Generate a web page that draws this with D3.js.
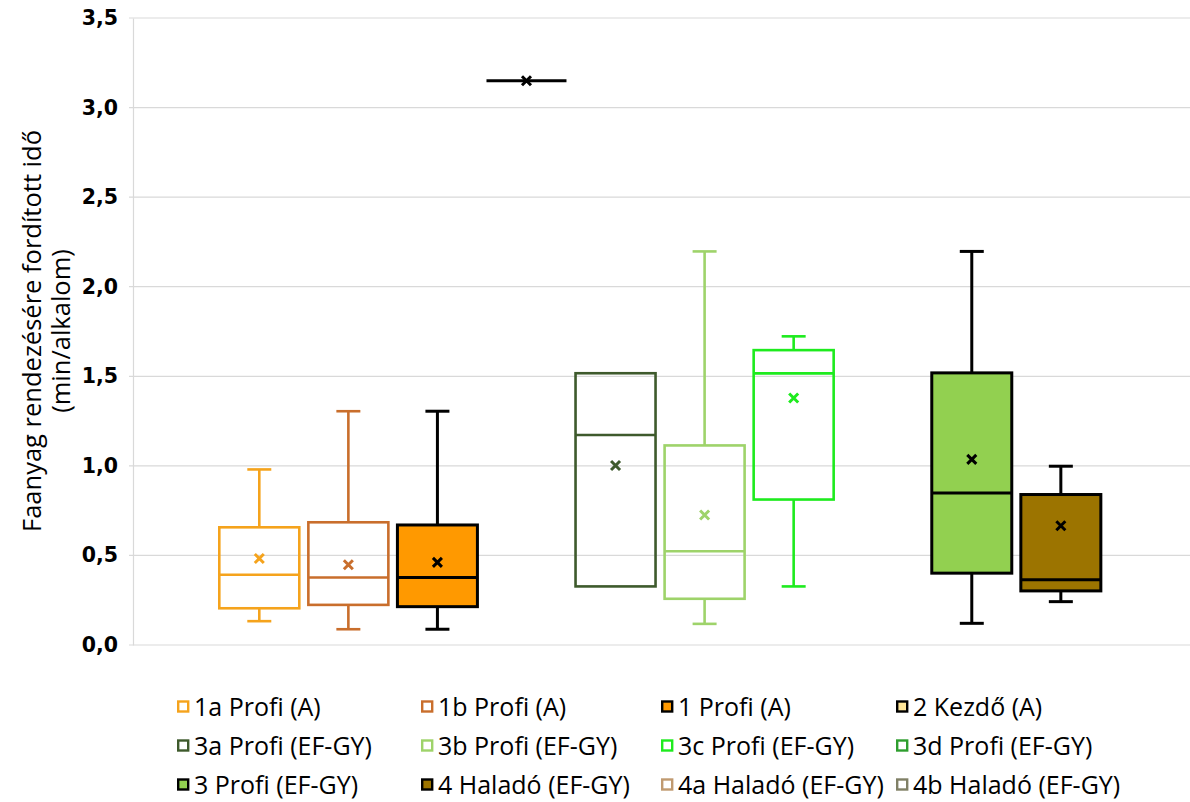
<!DOCTYPE html>
<html>
<head>
<meta charset="utf-8">
<script src="https://cdn.jsdelivr.net/npm/d3@7"></script>
<style>
  html, body { margin: 0; padding: 0; background: #ffffff; }
  svg { display: block; }
  text { font-family: "Open Sans", Lato, sans-serif; }
</style>
</head>
<body>
<svg id="chart" width="1190" height="802"></svg>
<script>
// ---- data ----
const series = ["1a Profi (A)", "1b Profi (A)", "1 Profi (A)", "2 Kezdő (A)",
  "3a Profi (EF-GY)", "3b Profi (EF-GY)", "3c Profi (EF-GY)", "3d Profi (EF-GY)",
  "3 Profi (EF-GY)", "4 Haladó (EF-GY)", "4a Haladó (EF-GY)", "4b Haladó (EF-GY)"];
const minValues    = [0.133, 0.088, 0.088, 3.15, 0.327, 0.118, 0.327, null, 0.121, 0.242, null, null];
const q1Values     = [0.205, 0.224, 0.214, 3.15, 0.327, 0.258, 0.812, null, 0.401, 0.302, null, null];
const medianValues = [0.392, 0.377, 0.377, 3.15, 1.172, 0.523, 1.516, null, 0.849, 0.364, null, null];
const q3Values     = [0.657, 0.685, 0.670, 3.15, 1.517, 1.114, 1.646, null, 1.519, 0.840, null, null];
const maxValues    = [0.980, 1.305, 1.305, 3.15, 1.517, 2.197, 1.723, null, 2.197, 0.998, null, null];
const meanValues   = [0.483, 0.448, 0.461, 3.15, 1.002, 0.726, 1.379, null, 1.036, 0.666, null, null];
const yTicks = [0, 0.5, 1.0, 1.5, 2.0, 2.5, 3.0, 3.5];
const yTitle = ["Faanyag rendezésére fordított idő", "(min/alkalom)"];

// ---- styles ----
const fills   = ["none", "none", "#FF9900", "#FFE699", "none", "none", "none", "none", "#92D050", "#9C7400", "none", "none"];
const strokes = ["#F5A31C", "#C96E2C", "#000000", "#000000", "#3E5A2C", "#9ED36A", "#1EEB1E", "#2E9E2E", "#000000", "#000000", "#C09A70", "#808066"];

const svg = d3.select("#chart");
const plotLeft = 133, plotRight = 1190, plotTop = 18, plotBottom = 645;

const y = d3.scaleLinear().domain([0, 3.5]).range([plotBottom, plotTop]);
const x = d3.scalePoint().domain(series).range([259.3, 259.3 + 11 * 89.06]);
const boxW = 80, capW = 24;

// gridlines
svg.append("g").selectAll("line").data(yTicks).join("line")
  .attr("x1", plotLeft - 4).attr("x2", plotRight)
  .attr("y1", d => y(d)).attr("y2", d => y(d))
  .attr("stroke", "#D9D9D9").attr("stroke-width", 1.2);

// y axis
const fmt = d => d3.format(".1f")(d).replace(".", ",");
const yAxis = svg.append("g").attr("transform", `translate(${plotLeft},0)`)
  .call(d3.axisLeft(y).tickValues(yTicks).tickFormat(fmt).tickSize(0).tickPadding(15));
yAxis.select(".domain").attr("stroke", "#D9D9D9").attr("stroke-width", 1.2);
yAxis.selectAll("text").attr("font-size", 20.5).attr("font-weight", "bold").attr("fill", "#000")
  .style("font-family", "'DejaVu Sans', 'Open Sans', sans-serif");

// y title
const tt = svg.append("text")
  .attr("transform", "translate(41,331) rotate(-90)")
  .attr("text-anchor", "middle").attr("font-size", 25.5).attr("fill", "#000");
tt.append("tspan").attr("x", 0).attr("y", 0).text(yTitle[0]);
tt.append("tspan").attr("x", 0).attr("y", 29).text(yTitle[1]);

// boxes
const data = series.map((s, i) => ({
  s, i, min: minValues[i], q1: q1Values[i], med: medianValues[i], q3: q3Values[i], max: maxValues[i], mean: meanValues[i]
})).filter(d => d.med !== null);

const g = svg.append("g");
data.forEach(d => {
  const cx = x(d.s);
  const col = strokes[d.i];
  const sw = fills[d.i] === "none" ? 2.6 : 3;
  const bg = g.append("g");
  if (d.max > d.q3) {
    bg.append("line").attr("x1", cx).attr("x2", cx).attr("y1", y(d.q3)).attr("y2", y(d.max)).attr("stroke", col).attr("stroke-width", sw);
    bg.append("line").attr("x1", cx - capW / 2).attr("x2", cx + capW / 2).attr("y1", y(d.max)).attr("y2", y(d.max)).attr("stroke", col).attr("stroke-width", sw);
  }
  if (d.min < d.q1) {
    bg.append("line").attr("x1", cx).attr("x2", cx).attr("y1", y(d.q1)).attr("y2", y(d.min)).attr("stroke", col).attr("stroke-width", sw);
    bg.append("line").attr("x1", cx - capW / 2).attr("x2", cx + capW / 2).attr("y1", y(d.min)).attr("y2", y(d.min)).attr("stroke", col).attr("stroke-width", sw);
  }
  bg.append("rect").attr("x", cx - boxW / 2).attr("width", boxW)
    .attr("y", y(d.q3)).attr("height", Math.max(0, y(d.q1) - y(d.q3)))
    .attr("fill", fills[d.i] === "none" ? "#ffffff" : fills[d.i]).attr("fill-opacity", fills[d.i] === "none" ? 0 : 1)
    .attr("stroke", col).attr("stroke-width", sw);
  bg.append("line").attr("x1", cx - boxW / 2).attr("x2", cx + boxW / 2).attr("y1", y(d.med)).attr("y2", y(d.med))
    .attr("stroke", col).attr("stroke-width", sw);
  const m = 4.5, my = y(d.mean);
  bg.append("path").attr("d", `M${cx - m},${my - m}L${cx + m},${my + m}M${cx - m},${my + m}L${cx + m},${my - m}`)
    .attr("stroke", col).attr("stroke-width", 3).attr("fill", "none");
});

// legend
const legColX = [177, 421, 661, 896];
const legRowY = [707, 746, 785];
const lg = svg.append("g");
series.forEach((s, i) => {
  const lx = legColX[i % 4], ly = legRowY[Math.floor(i / 4)];
  lg.append("rect").attr("x", lx + 1.2).attr("y", ly - 5.5).attr("width", 10).attr("height", 10)
    .attr("fill", fills[i] === "none" ? "#ffffff" : fills[i])
    .attr("stroke", strokes[i]).attr("stroke-width", 2.4);
  lg.append("text").attr("x", lx + 17).attr("y", ly).attr("dy", "0.36em")
    .attr("font-size", 25).attr("fill", "#000").text(s);
});
</script>
</body>
</html>
